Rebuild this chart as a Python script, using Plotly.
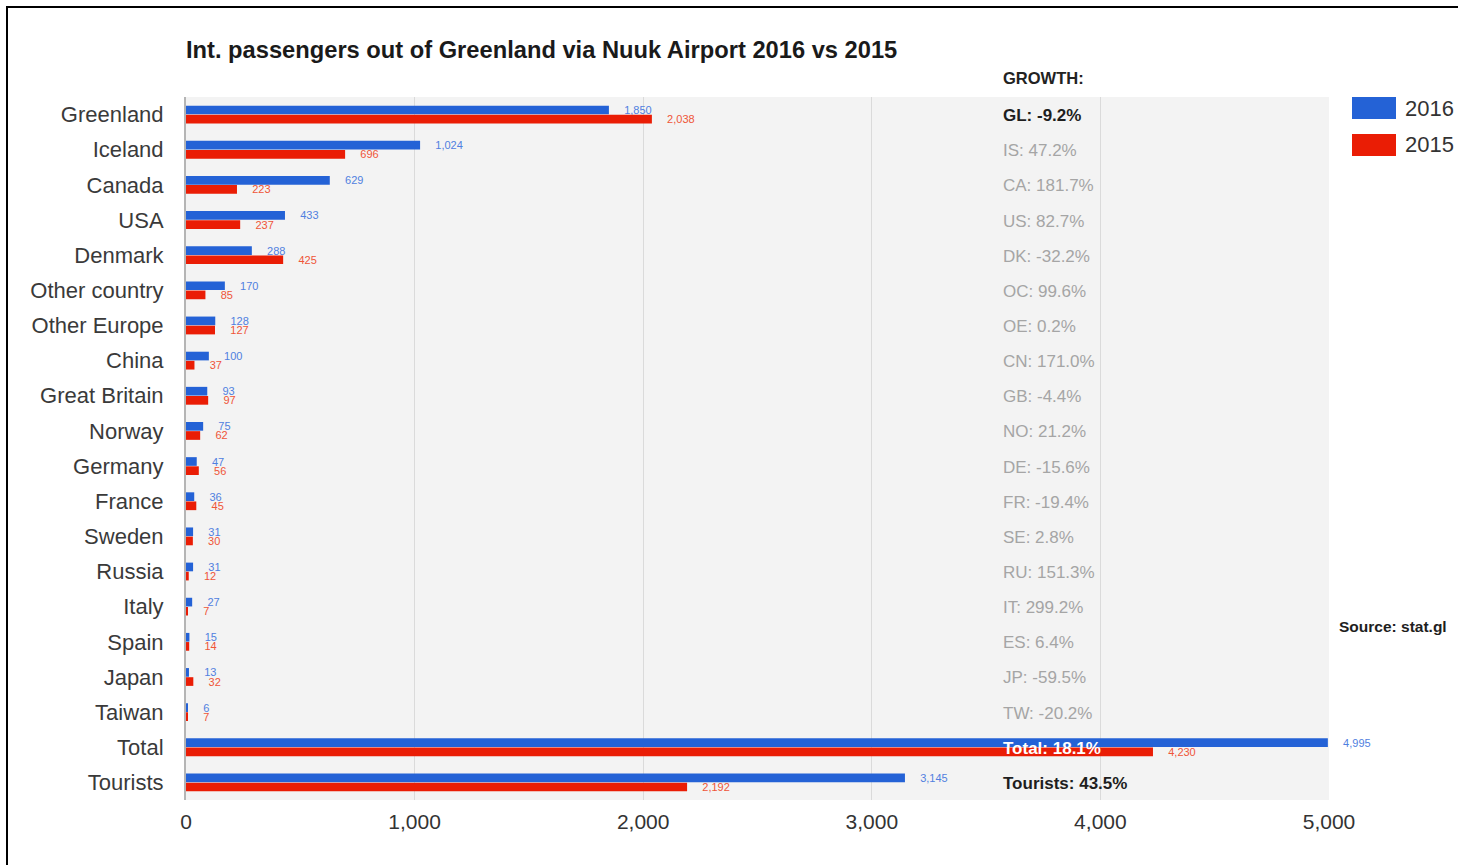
import plotly.graph_objects as go

# Passenger counts per origin, 2016 vs 2015
categories = ["Greenland", "Iceland", "Canada", "USA", "Denmark", "Other country",
              "Other Europe", "China", "Great Britain", "Norway", "Germany", "France",
              "Sweden", "Russia", "Italy", "Spain", "Japan", "Taiwan", "Total", "Tourists"]
pax_2016 = [1850, 1024, 629, 433, 288, 170, 128, 100, 93, 75, 47, 36, 31, 31, 27, 15, 13, 6, 4995, 3145]
pax_2015 = [2038, 696, 223, 237, 425, 85, 127, 37, 97, 62, 56, 45, 30, 12, 7, 14, 32, 7, 4230, 2192]
growth_labels = ["GL: -9.2%", "IS: 47.2%", "CA: 181.7%", "US: 82.7%", "DK: -32.2%", "OC: 99.6%",
                 "OE: 0.2%", "CN: 171.0%", "GB: -4.4%", "NO: 21.2%", "DE: -15.6%", "FR: -19.4%",
                 "SE: 2.8%", "RU: 151.3%", "IT: 299.2%", "ES: 6.4%", "JP: -59.5%", "TW: -20.2%",
                 "Total: 18.1%", "Tourists: 43.5%"]
x_ticks = [0, 1000, 2000, 3000, 4000, 5000]

BLUE = "#2462d6"
RED = "#ea1d05"
FONT = "Liberation Sans, Arial, sans-serif"

W, H = 1458, 865
L, R, T, B = 186, 1329, 97, 800


def px(x):
    return (x - L) / (R - L)


def py(y):
    return (B - y) / (B - T)


def fmt(v):
    return "    " + f"{v:,}"


fig = go.Figure()
fig.add_trace(go.Bar(
    y=categories, x=pax_2016, orientation="h", name="2016",
    marker=dict(color=BLUE, line_width=0),
    text=[fmt(v) for v in pax_2016], textposition="outside",
    textfont=dict(size=11, color="#5080e0", family=FONT),
    constraintext="none", cliponaxis=False,
))
fig.add_trace(go.Bar(
    y=categories, x=pax_2015, orientation="h", name="2015",
    marker=dict(color=RED, line_width=0),
    text=[fmt(v) for v in pax_2015], textposition="outside",
    textfont=dict(size=11, color="#ef5538", family=FONT),
    constraintext="none", cliponaxis=False,
))

annotations = []
# growth column
annotations.append(dict(x=px(1001), y=py(78), xref="paper", yref="paper", text="<b>GROWTH:</b>",
                        showarrow=False, xanchor="left", yanchor="middle",
                        font=dict(size=16.5, color="#222222", family=FONT)))
for i, (cat, lab) in enumerate(zip(categories, growth_labels)):
    if cat == "Total":
        color, txt = "#ffffff", f"<b>{lab}</b>"
    elif cat in ("Greenland", "Tourists"):
        color, txt = "#1e1e1e", f"<b>{lab}</b>"
    else:
        color, txt = "#a5a5a5", lab
    annotations.append(dict(x=3565, y=cat, xref="x", yref="y", text=txt, showarrow=False,
                            xanchor="left", yanchor="middle", yshift=-1,
                            font=dict(size=17, color=color, family=FONT)))

# title
annotations.append(dict(x=px(184), y=py(50), xref="paper", yref="paper",
                        text="<b>Int. passengers out of Greenland via Nuuk Airport 2016 vs 2015</b>",
                        showarrow=False, xanchor="left", yanchor="middle",
                        font=dict(size=23.7, color="#1a1a1a", family=FONT)))
# legend
annotations.append(dict(x=px(1403), y=py(108), xref="paper", yref="paper", text="2016",
                        showarrow=False, xanchor="left", yanchor="middle",
                        font=dict(size=22, color="#333333", family=FONT)))
annotations.append(dict(x=px(1403), y=py(145), xref="paper", yref="paper", text="2015",
                        showarrow=False, xanchor="left", yanchor="middle",
                        font=dict(size=22, color="#333333", family=FONT)))
# source
annotations.append(dict(x=px(1337), y=py(626), xref="paper", yref="paper", text="<b>Source: stat.gl</b>",
                        showarrow=False, xanchor="left", yanchor="middle",
                        font=dict(size=15.5, color="#1e1e1e", family=FONT)))

shapes = [
    dict(type="rect", xref="paper", yref="paper", x0=px(1352), x1=px(1396), y0=py(97), y1=py(119),
         fillcolor=BLUE, line_width=0),
    dict(type="rect", xref="paper", yref="paper", x0=px(1352), x1=px(1396), y0=py(134), y1=py(156),
         fillcolor=RED, line_width=0),
    dict(type="rect", xref="paper", yref="paper", x0=px(7), x1=px(1475), y0=py(7), y1=py(880),
         line=dict(color="#000000", width=2), fillcolor="rgba(0,0,0,0)", layer="above"),
]

fig.update_layout(
    width=W, height=H,
    margin=dict(l=L, r=W - R, t=T, b=H - B),
    paper_bgcolor="#ffffff", plot_bgcolor="#f3f3f3",
    barmode="group", bargap=0.48, bargroupgap=0.05,
    showlegend=False,
    font=dict(family=FONT),
    annotations=annotations, shapes=shapes,
    xaxis=dict(range=[0, 5000], tickvals=x_ticks, tickformat=",", showgrid=True,
               gridcolor="#dadada", gridwidth=1, zeroline=False, showline=False,
               tickfont=dict(size=21, color="#333333"), ticks="", ticklabelstandoff=7),
    yaxis=dict(autorange="reversed", showgrid=False, showline=True, linecolor="#b5b5b5",
               linewidth=2, ticks="", tickfont=dict(size=22, color="#3a3a3a"),
               ticklabelstandoff=16),
)

fig.write_html("out.html")
